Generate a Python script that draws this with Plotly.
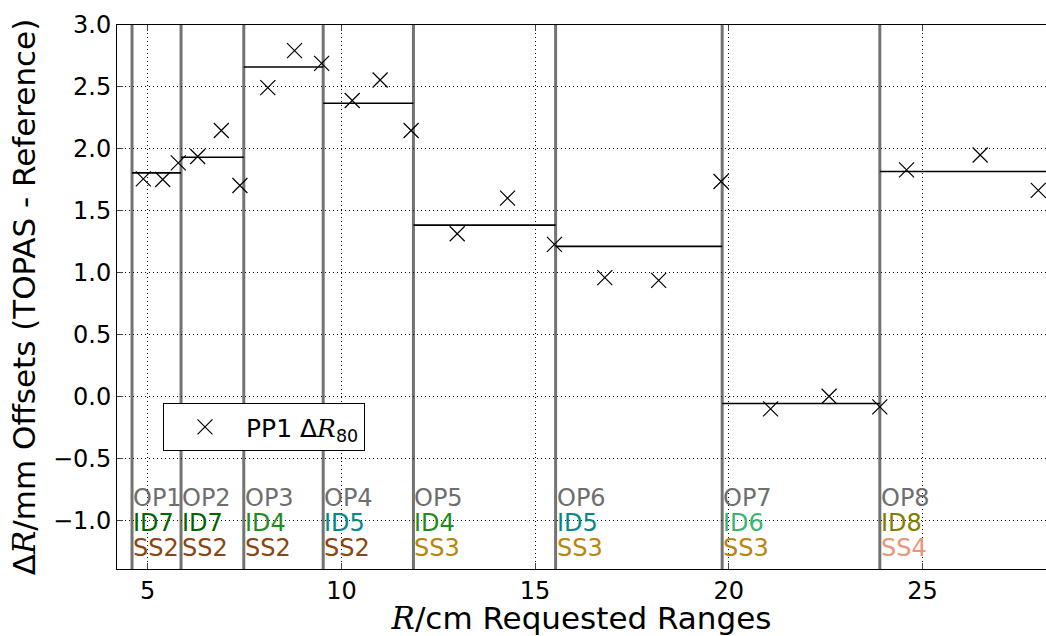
import plotly.graph_objects as go

# ---- data ----
R_cm = [4.886, 5.387, 5.79, 6.29, 6.90, 7.38, 8.10, 8.79, 9.49, 10.28, 11.0, 11.80,
        12.99, 14.29, 15.50, 16.80, 18.19, 19.80, 21.08, 22.59, 23.90, 24.59, 26.49, 27.99]
dR80 = [1.758, 1.752, 1.887, 1.938, 2.148, 1.704, 2.494, 2.793, 2.69, 2.39, 2.556, 2.148,
        1.314, 1.602, 1.228, 0.96, 0.938, 1.736, -0.10, 0.002, -0.084, 1.83, 1.95, 1.664]

op_starts = [4.595, 5.86, 7.48, 9.53, 11.86, 15.53, 19.83, 23.90]
op_means = [1.806, 1.932, 2.661, 2.368, 1.384, 1.212, -0.056, 1.817]
op_last_end = 29.0

op_labels = ["OP1", "OP2", "OP3", "OP4", "OP5", "OP6", "OP7", "OP8"]
id_labels = ["ID7", "ID7", "ID4", "ID5", "ID4", "ID5", "ID6", "ID8"]
ss_labels = ["SS2", "SS2", "SS2", "SS2", "SS3", "SS3", "SS3", "SS4"]

id_colors = {"ID4": "#228B22", "ID5": "#008B8B", "ID6": "#3CB371",
             "ID7": "#006400", "ID8": "#808000"}
ss_colors = {"SS2": "#8B4513", "SS3": "#B8860B", "SS4": "#E9967A"}
op_color = "#6e6e6e"

x_range = [4.207, 28.19]
y_range = [-1.393, 3.0]
x_ticks = [5, 10, 15, 20, 25]
y_ticks = [-1.0, -0.5, 0.0, 0.5, 1.0, 1.5, 2.0, 2.5, 3.0]

label_y = [-0.82, -1.02, -1.225]

FONT = "DejaVu Sans"
SERIF_R = "<span style=\"font-family:'DejaVu Serif'\"><i>R</i></span>"

fig = go.Figure()

# mean lines per option
seg_x, seg_y = [], []
ends = op_starts[1:] + [op_last_end]
for s, e, m in zip(op_starts, ends, op_means):
    seg_x += [s, e, None]
    seg_y += [m, m, None]
fig.add_trace(go.Scatter(x=seg_x, y=seg_y, mode="lines",
                         line=dict(color="black", width=1.6),
                         showlegend=False, hoverinfo="skip"))

# data points
fig.add_trace(go.Scatter(x=R_cm, y=dR80, mode="markers",
                         marker=dict(symbol="x-thin", size=15,
                                     line=dict(color="black", width=1.2)),
                         name="PP1 \u0394" + SERIF_R + "<sub>80</sub>"))

# vertical option boundaries
for s in op_starts:
    fig.add_shape(type="line", x0=s, x1=s, xref="x", y0=0, y1=1, yref="paper",
                  line=dict(color="rgba(100,100,100,0.9)", width=3), layer="between")

# labels
for s, op, idl, ss in zip(op_starts, op_labels, id_labels, ss_labels):
    for txt, col, yy in [(op, op_color, label_y[0]),
                         (idl, id_colors[idl], label_y[1]),
                         (ss, ss_colors[ss], label_y[2])]:
        fig.add_annotation(x=s, y=yy, xref="x", yref="y", text=txt, showarrow=False,
                           xanchor="left", yanchor="middle", xshift=-1,
                           font=dict(family=FONT, size=24, color=col))

fig.update_layout(
    width=1046, height=636,
    margin=dict(l=117, r=0, t=25, b=67, autoexpand=False),
    paper_bgcolor="white", plot_bgcolor="white",
    font=dict(family=FONT, size=24, color="black"),
    legend=dict(x=0.0495, y=0.305, xanchor="left", yanchor="top",
                bgcolor="white", bordercolor="black", borderwidth=1,
                font=dict(family=FONT, size=25), itemwidth=72),
)

fig.update_xaxes(range=x_range, tickvals=x_ticks, ticks="inside", ticklen=6,
                 showline=True, linecolor="black", linewidth=1, mirror="ticks",
                 showgrid=True, gridcolor="black", griddash="1px,3px", gridwidth=1,
                 zeroline=False, tickfont=dict(family=FONT, size=24),
                 title=dict(text=SERIF_R + "/cm Requested Ranges",
                            font=dict(family=FONT, size=31), standoff=2))
fig.update_yaxes(range=y_range, tickvals=y_ticks, tickformat=".1f", ticks="inside",
                 ticklen=6, showline=True, linecolor="black", linewidth=1, mirror=False,
                 showgrid=True, gridcolor="black", griddash="1px,3px", gridwidth=1,
                 zeroline=False, tickfont=dict(family=FONT, size=24),
                 title=dict(text="\u0394" + SERIF_R + "/mm Offsets (TOPAS - Reference)",
                            font=dict(family=FONT, size=31), standoff=8))

fig.write_html("out.html", config={"displayModeBar": False},
               post_script="document.body.style.margin='0';document.body.style.overflow='hidden';")
